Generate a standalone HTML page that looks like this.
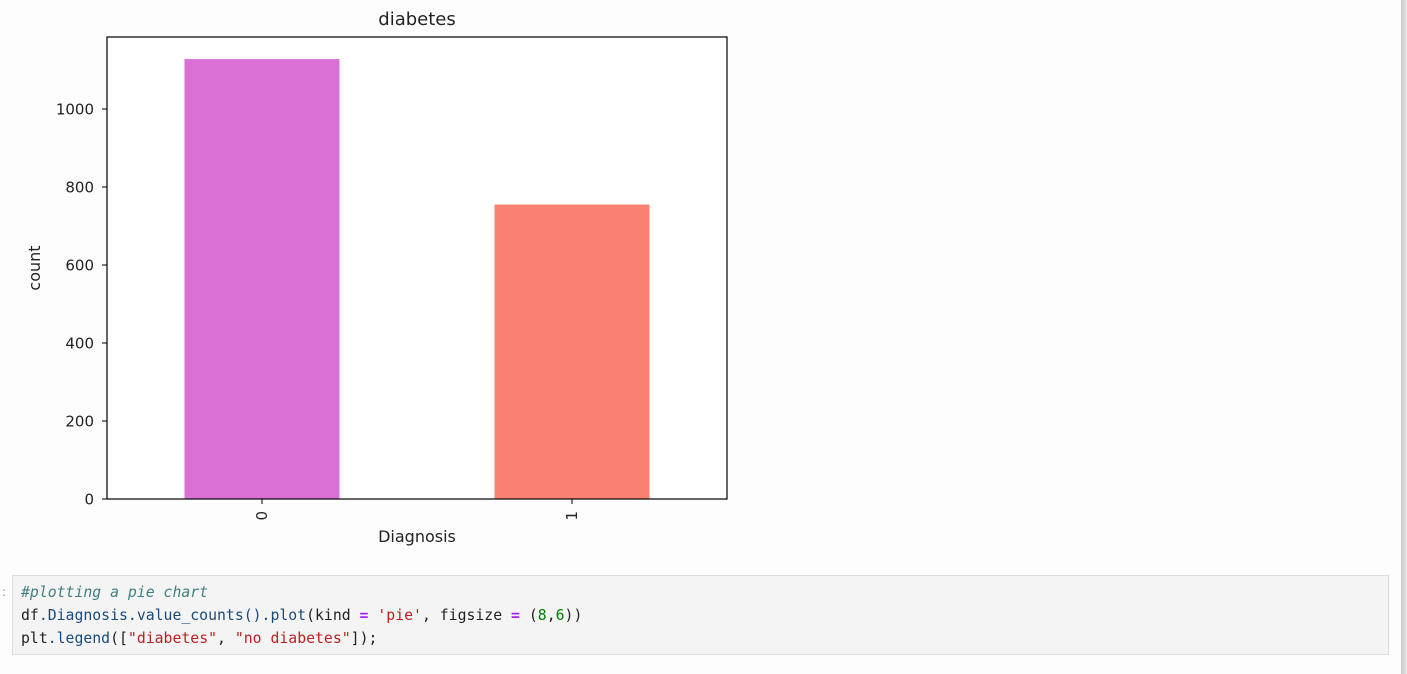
<!DOCTYPE html>
<html><head><meta charset="utf-8"><style>
html,body{margin:0;padding:0;width:1407px;height:674px;background:#fdfdfd;overflow:hidden;font-family:"DejaVu Sans","Liberation Sans",sans-serif}
#chart{position:absolute;left:0;top:0}
#gutter{position:absolute;left:1401px;top:0;width:6px;height:674px;background:linear-gradient(90deg,#c8c8c8,#e6e6e6)}
#code{position:absolute;left:12px;top:575px;width:1377px;height:80px;background:#f4f4f4;border:1px solid #dcdcdc;font-family:"DejaVu Sans Mono","Liberation Mono",monospace;font-size:14.8px;line-height:23px;padding:5px 0 0 8px;box-sizing:border-box;color:#222}
.c{color:#408080;font-style:italic}.s{color:#ba2121}.o{color:#aa22ff;font-weight:bold}.n{color:#008000}.p{color:#1a4a7a}
#prompt{position:absolute;left:2px;top:585px;font-size:12px;color:#999}
</style></head><body>
<svg id="chart" width="760" height="560" xmlns="http://www.w3.org/2000/svg"></svg>
<div id="gutter"></div>
<div id="prompt">:</div>
<div id="code">
<div><span class="c">#plotting a pie chart</span></div>
<div>df<span class="p">.Diagnosis.value_counts().plot</span>(kind <span class="o">=</span> <span class="s">'pie'</span>, figsize <span class="o">=</span> (<span class="n">8</span>,<span class="n">6</span>))</div>
<div>plt<span class="p">.legend</span>([<span class="s">"diabetes"</span>, <span class="s">"no diabetes"</span>]);</div>
</div>
<script>
const categories = ["0","1"];
const counts = [1128, 755];
const barColors = ["#da70d6","#fa8072"];
const yTicks = [0,200,400,600,800,1000];
const NS="http://www.w3.org/2000/svg";
const svg=document.getElementById('chart');
const L=107,R=727,T=37,B=499;
const yMax=1000/((B-109)/(B-T));
function ys(v){return B-(v/yMax)*(B-T);}
function xs(i){return L+(R-L)*(i+0.5)/categories.length;}
function el(t,a,txt){const e=document.createElementNS(NS,t);for(const k in a)e.setAttribute(k,a[k]);if(txt!==undefined)e.textContent=txt;svg.appendChild(e);return e;}
const bg=el('rect',{x:L,y:T,width:R-L,height:B-T,fill:'#fff'});


const bw=(R-L)/categories.length*0.5;
counts.forEach((v,i)=>{
  const r=el('rect',{x:xs(i)-bw/2,y:ys(v),width:bw,height:B-ys(v),fill:barColors[i]});
  
  
  const tk=el('line',{x1:xs(i),x2:xs(i),y1:B,y2:B+5,stroke:'#000'});
  
  
  const tl=el('text',{x:0,y:0,'font-size':15,'text-anchor':'end',fill:'#222',transform:`translate(${xs(i)+5},${B+12}) rotate(-90)`},categories[i]);
  
  
});
yTicks.forEach(v=>{
  const tk=el('line',{x1:L-5,x2:L,y1:ys(v),y2:ys(v),stroke:'#000'});
  
  
  const tl=el('text',{x:L-13,y:ys(v)+5.5,'font-size':15,'text-anchor':'end',fill:'#222'},String(v));
  
  
});
const fr=el('rect',{x:L,y:T,width:R-L,height:B-T,fill:'none',stroke:'#000','stroke-width':1.2});


const ti=el('text',{x:(L+R)/2,y:25,'font-size':18,'text-anchor':'middle',fill:'#222'},'diabetes');


const xt=el('text',{x:(L+R)/2,y:542,'font-size':16,'text-anchor':'middle',fill:'#222'},'Diagnosis');


const yt=el('text',{x:0,y:0,'font-size':16,'text-anchor':'middle',fill:'#222',transform:`translate(40,${(T+B)/2}) rotate(-90)`},'count');


</script>
</body></html>
